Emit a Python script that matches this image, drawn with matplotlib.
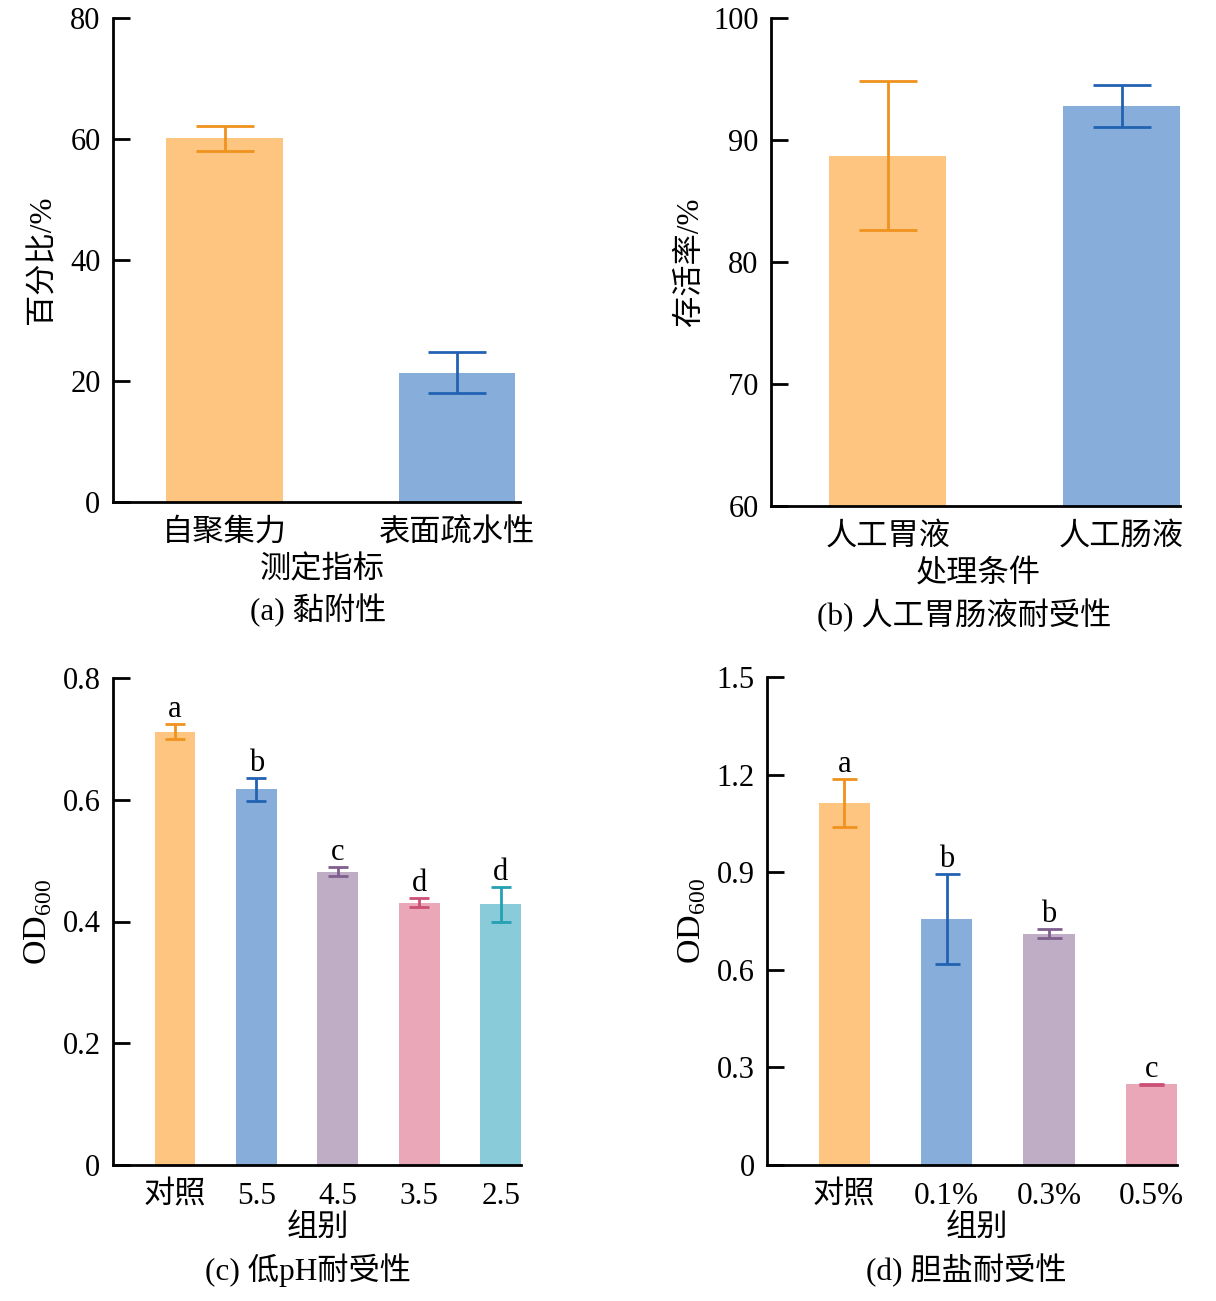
import matplotlib
matplotlib.use("Agg")
import matplotlib.pyplot as plt

plt.rcParams['font.family'] = ['Liberation Serif', 'Noto Sans CJK SC']
plt.rcParams['mathtext.fontset'] = 'custom'
plt.rcParams['mathtext.rm'] = 'Liberation Serif'

# ---- data ----
a_cats = ['自聚集力', '表面疏水性']
a_vals = [60.1, 21.4]
a_errs = [2.1, 3.4]

b_cats = ['人工胃液', '人工肠液']
b_vals = [88.7, 92.8]
b_errs = [6.1, 1.7]

c_cats = ['对照', '5.5', '4.5', '3.5', '2.5']
c_vals = [0.712, 0.617, 0.482, 0.431, 0.428]
c_errs = [0.013, 0.019, 0.007, 0.007, 0.029]
c_sig = ['a', 'b', 'c', 'd', 'd']

d_cats = ['对照', '0.1%', '0.3%', '0.5%']
d_vals = [1.112, 0.756, 0.711, 0.248]
d_errs = [0.073, 0.137, 0.013, 0.002]
d_sig = ['a', 'b', 'b', 'c']

bar_colors = ['#FDC580', '#87AEDB', '#BFADC6', '#E9A7B7', '#89CBD8']
err_colors = ['#F0921E', '#2262B2', '#7E5F8E', '#CC4F78', '#25A0B5']

W, H = 1216, 1301
fig = plt.figure(figsize=(W/100, H/100), dpi=100)

def px(x, y):
    return x / W, 1 - y / H

def make_ax(l, t, r, b):
    x0, y1 = px(l, t)
    x1, y0 = px(r, b)
    return fig.add_axes([x0, y0, x1 - x0, y1 - y0])

FS = 22.5
NFS = 22

def draw(ax, cats, vals, errs, ylim, yticks, yticklabels, xlim, cap, sig=None):
    x = list(range(len(cats)))
    for i in x:
        ax.bar(i, vals[i], width=0.5, color=bar_colors[i], zorder=2)
        ax.errorbar(i, vals[i], yerr=errs[i], fmt='none', ecolor=err_colors[i],
                    elinewidth=2, capsize=cap, capthick=2, zorder=3)
        if sig is not None:
            ax.annotate(sig[i], (i, vals[i] + errs[i]), xytext=(0, 0),
                        textcoords='offset points', ha='center', va='bottom',
                        fontsize=NFS)
    ax.set_xlim(*xlim)
    ax.set_ylim(*ylim)
    ax.set_yticks(yticks)
    ax.set_yticklabels(yticklabels, fontsize=NFS)
    ax.set_xticks(x)
    ax.set_xticklabels(cats, fontsize=FS)
    for s in ['top', 'right']:
        ax.spines[s].set_visible(False)
    for s in ['left', 'bottom']:
        ax.spines[s].set_linewidth(2)
        ax.spines[s].set_color('black')
    ax.tick_params(axis='y', direction='in', length=12, width=2, pad=9)
    ax.tick_params(axis='x', length=0, pad=12)

# (a)
ax_a = make_ax(113, 18, 520, 502)
draw(ax_a, a_cats, a_vals, a_errs, (0, 80), [0, 20, 40, 60, 80],
     ['0', '20', '40', '60', '80'], (-0.48, 1.27), cap=21)
ax_a.set_ylabel('百分比/%', fontsize=FS, labelpad=9)
fig.text(*px(322, 571), '测定指标', ha='center', va='center', fontsize=FS)
fig.text(*px(318, 610), '(a) 黏附性', ha='center', va='center', fontsize=FS)

# (b)
ax_b = make_ax(771, 18, 1180, 506)
draw(ax_b, b_cats, b_vals, b_errs, (60, 100), [60, 70, 80, 90, 100],
     ['60', '70', '80', '90', '100'], (-0.5, 1.25), cap=21)
ax_b.set_ylabel('存活率/%', fontsize=FS, labelpad=6)
fig.text(*px(978, 575), '处理条件', ha='center', va='center', fontsize=FS)
fig.text(*px(964, 615), '(b) 人工胃肠液耐受性', ha='center', va='center', fontsize=FS)

# (c)
ax_c = make_ax(113, 678, 521, 1165)
draw(ax_c, c_cats, c_vals, c_errs, (0, 0.8), [0, 0.2, 0.4, 0.6, 0.8],
     ['0', '0.2', '0.4', '0.6', '0.8'], (-0.76, 4.25), cap=7, sig=c_sig)
ax_c.set_ylabel(r'OD$_{600}$', fontsize=FS + 2, labelpad=6)
fig.text(*px(318, 1228), '组别', ha='center', va='center', fontsize=FS)
fig.text(*px(308, 1270), '(c) 低pH耐受性', ha='center', va='center', fontsize=FS)

# (d)
ax_d = make_ax(767, 677, 1177, 1165)
draw(ax_d, d_cats, d_vals, d_errs, (0, 1.5), [0, 0.3, 0.6, 0.9, 1.2, 1.5],
     ['0', '0.3', '0.6', '0.9', '1.2', '1.5'], (-0.755, 3.25), cap=9, sig=d_sig)
ax_d.set_ylabel(r'OD$_{600}$', fontsize=FS + 2, labelpad=6)
fig.text(*px(977, 1228), '组别', ha='center', va='center', fontsize=FS)
fig.text(*px(966, 1270), '(d) 胆盐耐受性', ha='center', va='center', fontsize=FS)

fig.savefig('out.png', dpi=100)
